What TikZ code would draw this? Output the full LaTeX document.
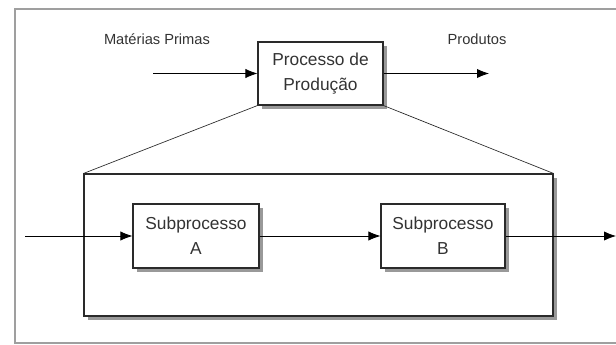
\documentclass[tikz,border=0pt]{standalone}
\usepackage{fontspec}
\setmainfont{Liberation Sans}
\usepackage{xcolor}
\usetikzlibrary{arrows.meta,shadows}

\definecolor{textgray}{HTML}{333333}
\definecolor{linegray}{HTML}{2A2A2A}

\tikzset{
  caixa/.style={draw=linegray, fill=white, line width=0.8pt, inner sep=0pt, align=center,
    text=textgray, font=\fontsize{13}{18.5}\selectfont,
    drop shadow={shadow xshift=3pt, shadow yshift=-3pt, fill=black!40, opacity=1}},
  rotulo/.style={text=textgray, font=\fontsize{11}{13}\selectfont, inner sep=0pt},
  seta/.style={draw=black, line width=0.6pt, -{Latex[length=9pt,width=7pt]}}
}

\begin{document}
\begin{tikzpicture}[x=0.75pt, y=-0.75pt]
        \useasboundingbox (0,0) rectangle (616,345);
        \fill[white] (0,0) rectangle (616,345);
        \draw[gray!75, line width=1.6pt] (630,9) -- (15,9) -- (15,343) -- (630,343);

        \node[caixa, minimum width=351.75pt, minimum height=106.5pt] (detalhe) at (318.5,245) {};
        \node[caixa, minimum width=93.75pt, minimum height=47.25pt] (proc) at (320.5,73.5) {Processo de\\Produção};
        \node[caixa, minimum width=94.5pt, minimum height=48pt] (subA) at (196,236) {Subprocesso\\A};
        \node[caixa, minimum width=93pt, minimum height=48pt] (subB) at (443,236) {Subprocesso\\B};

        \node[rotulo] (mp) at (157,39) {Matérias Primas};
        \node[rotulo] (prod) at (477,39) {Produtos};

        \coordinate (mpIn) at (153,73.5);
        \coordinate (prodOut) at (489,73.5);
        \coordinate (entrada) at (25,236);
        \coordinate (saida) at (616,236);

        \draw[linegray, line width=0.5pt] (proc.south west) -- (detalhe.north west);
        \draw[linegray, line width=0.5pt] (proc.south east) -- (detalhe.north east);

        \draw[seta] (mpIn) -- (proc.west);
        \draw[seta] (proc.east) -- (prodOut);
        \draw[seta] (entrada) -- (subA.west);
        \draw[seta] (subA.east) -- (subB.west);
        \draw[seta] (subB.east) -- (saida);
    \end{tikzpicture}
\end{document}
